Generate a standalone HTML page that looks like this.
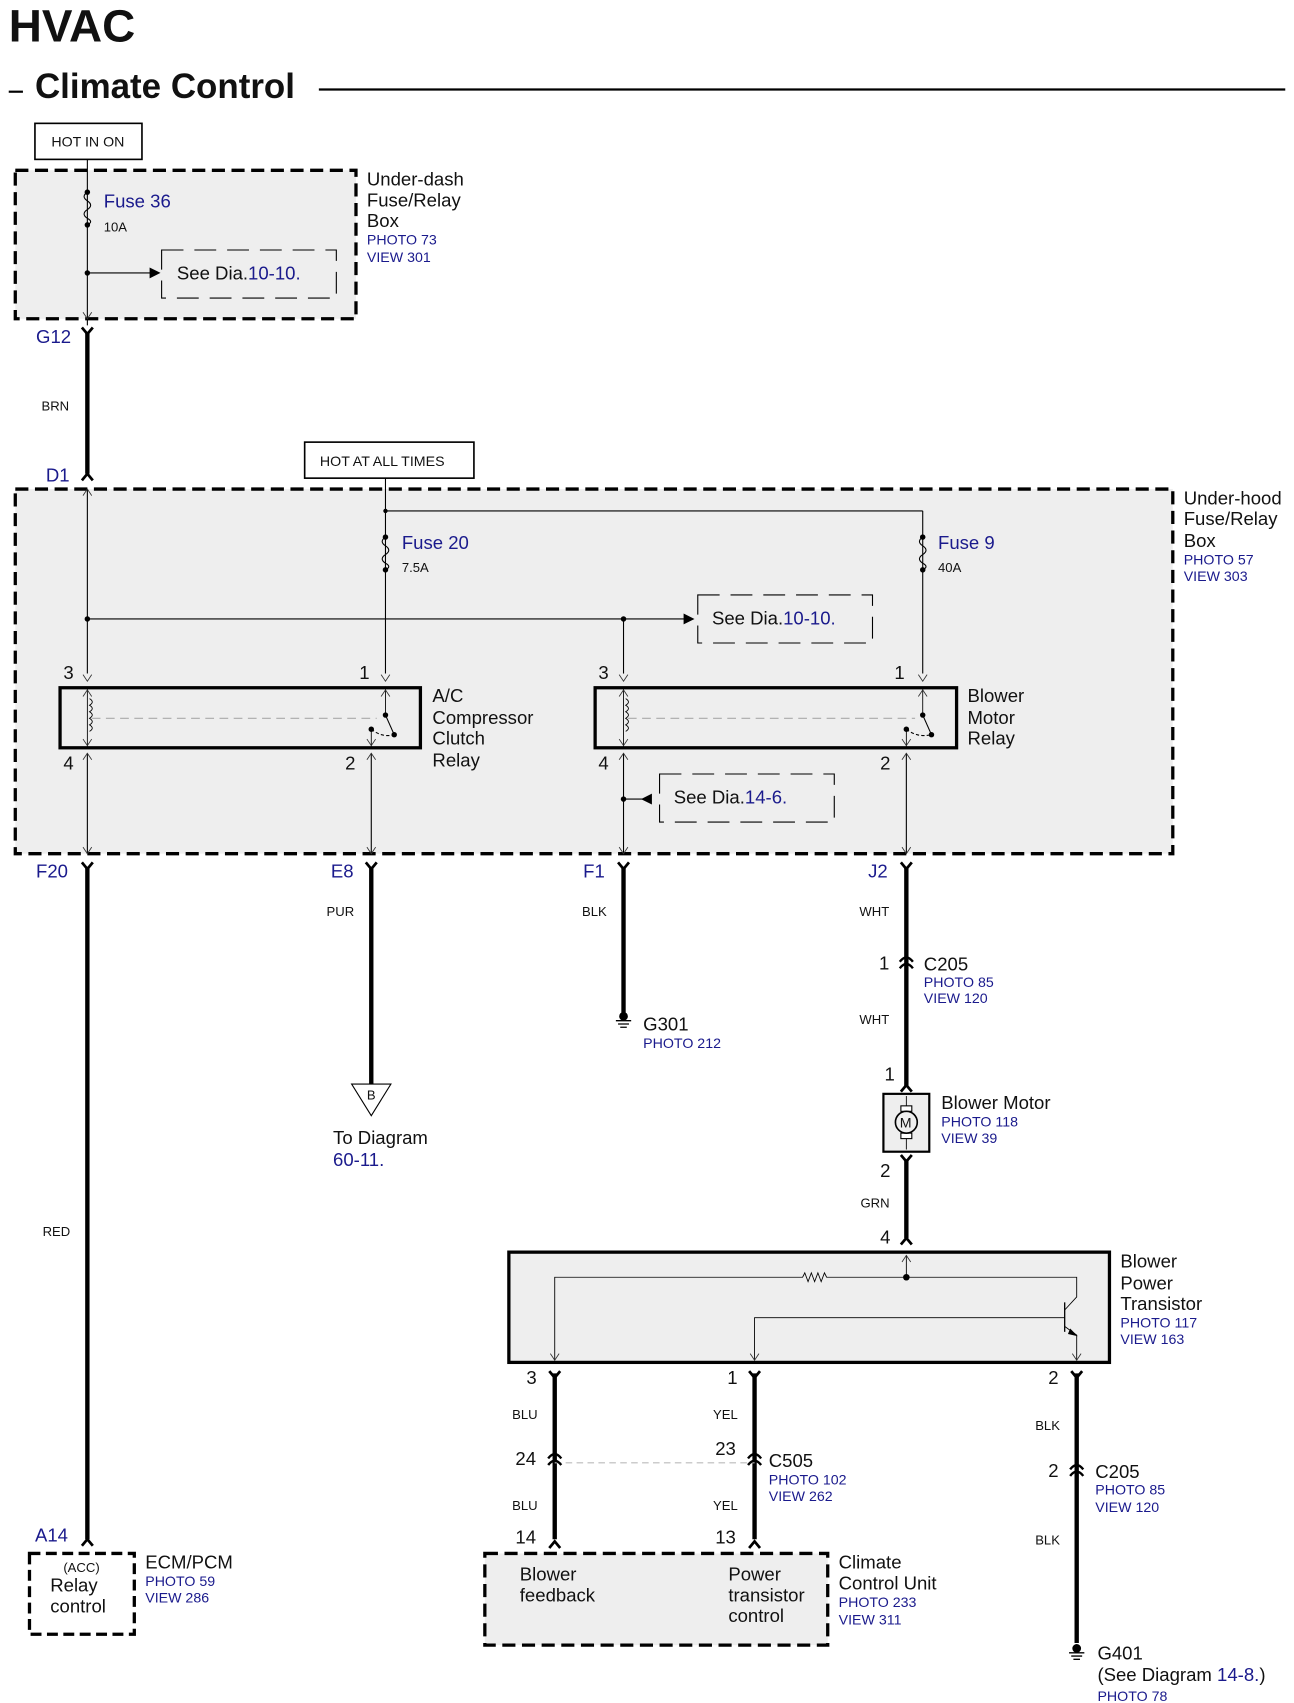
<!DOCTYPE html>
<html><head><meta charset="utf-8"><style>
html,body{margin:0;padding:0;background:#fff}
svg{display:block}
text{font-family:"Liberation Sans",Arial,sans-serif;fill:#111}
.b{fill:#1a1a8c}
.s{font-size:12px}
.m{font-size:17px}
.p{font-size:13px;fill:#1a1a8c}
</style></head><body>
<svg width="1294" height="1703" viewBox="0 0 1185 1560" preserveAspectRatio="none" xmlns="http://www.w3.org/2000/svg">
<defs>
<g id="cf"><path d="M-5,-6 L0,0 L5,-6" fill="none" stroke="#000" stroke-width="2.5"/></g>
<g id="cm"><path d="M-5,6 L0,0 L5,6" fill="none" stroke="#000" stroke-width="2.5"/></g>
<g id="cc"><path d="M-6,5 Q0,-3 6,5 M-6,11 Q0,3 6,11" fill="none" stroke="#000" stroke-width="2.2"/></g>
<g id="tf"><path d="M-4,-6 L0,0 L4,-6" fill="none" stroke="#333" stroke-width="0.8"/></g>
<g id="tm"><path d="M-4,6 L0,0 L4,6" fill="none" stroke="#333" stroke-width="0.8"/></g>
<g id="fuse"><circle cx="0" cy="0" r="2.5" fill="#000"/><circle cx="0" cy="30" r="2.5" fill="#000"/><path d="M0,0 q-6,4 0,8 q6,4 0,8 q-6,4 0,8 q6,3 0,6" fill="none" stroke="#000" stroke-width="1"/></g>
<g id="gnd"><circle cx="0" cy="0" r="4" fill="#000"/><path d="M-7,4 h14 M-5,7 h10 M-3,10 h6" stroke="#000" stroke-width="1.2"/></g>
</defs>

<text x="8" y="38" style="font-size:42px;font-weight:bold">HVAC</text>
<line x1="8" y1="84" x2="21" y2="84" stroke="#000" stroke-width="2"/>
<text x="32" y="90" style="font-size:32px;font-weight:bold">Climate Control</text>
<line x1="292" y1="82" x2="1177" y2="82" stroke="#000" stroke-width="2"/>

<!-- Under-dash -->
<rect x="32" y="113" width="98" height="33" fill="#fff" stroke="#000" stroke-width="1.5"/>
<text x="47" y="134" style="font-size:13px">HOT IN ON</text>
<rect x="14" y="156" width="312" height="136" fill="#eee" stroke="#000" stroke-width="3" stroke-dasharray="12,6"/>
<line x1="80" y1="146" x2="80" y2="298" stroke="#000" stroke-width="1"/>
<use href="#fuse" x="80" y="176"/>
<text x="95" y="190" class="m b">Fuse 36</text>
<text x="95" y="212" class="s">10A</text>
<circle cx="80" cy="250" r="2.5"/>
<line x1="80" y1="250" x2="140" y2="250" stroke="#000"/>
<path d="M137,245 L147,250 L137,255z"/>
<rect x="148" y="229" width="160" height="44" fill="none" stroke="#000" stroke-dasharray="20,10"/>
<text x="162" y="256" style="font-size:17px">See Dia.<tspan class="b">10-10.</tspan></text>
<use href="#tf" x="80" y="292"/>
<text x="336" y="170" class="m">Under-dash</text>
<text x="336" y="189" class="m">Fuse/Relay</text>
<text x="336" y="208" class="m">Box</text>
<text x="336" y="224" class="p">PHOTO 73</text>
<text x="336" y="240" class="p">VIEW 301</text>

<text x="33" y="314" class="m b">G12</text>
<use href="#cf" x="80" y="306"/>
<line x1="80" y1="304" x2="80" y2="434" stroke="#000" stroke-width="4"/>
<text x="38" y="376" class="s">BRN</text>
<use href="#cm" x="80" y="434"/>
<text x="42" y="441" class="m b">D1</text>

<!-- Under-hood -->
<rect x="279" y="405" width="155" height="33" fill="#fff" stroke="#000" stroke-width="1.5"/>
<text x="293" y="427" style="font-size:13px">HOT AT ALL TIMES</text>
<rect x="14" y="448" width="1060" height="334" fill="#eee" stroke="#000" stroke-width="3" stroke-dasharray="12,6"/>
<line x1="353" y1="438" x2="353" y2="617" stroke="#000"/>
<line x1="353" y1="468" x2="845" y2="468" stroke="#000"/>
<line x1="845" y1="468" x2="845" y2="617" stroke="#000"/>
<circle cx="353" cy="468" r="2"/>
<use href="#fuse" x="353" y="492"/>
<use href="#fuse" x="845" y="492"/>
<text x="368" y="503" class="m b">Fuse 20</text>
<text x="368" y="524" class="s">7.5A</text>
<text x="859" y="503" class="m b">Fuse 9</text>
<text x="859" y="524" class="s">40A</text>
<line x1="80" y1="448" x2="80" y2="617" stroke="#000"/>
<use href="#tm" x="80" y="448"/>
<circle cx="80" cy="567" r="2.5"/><circle cx="571" cy="567" r="2.5"/>
<line x1="80" y1="567" x2="628" y2="567" stroke="#000"/>
<path d="M626,562 L636,567 L626,572z"/>
<line x1="571" y1="567" x2="571" y2="617" stroke="#000"/>
<rect x="639" y="545" width="160" height="44" fill="none" stroke="#000" stroke-dasharray="20,10"/>
<text x="652" y="572" style="font-size:17px">See Dia.<tspan class="b">10-10.</tspan></text>

<!-- relays -->
<g stroke="#000" fill="none">
<rect x="55" y="630" width="330" height="55" stroke-width="3"/>
<rect x="545" y="630" width="331" height="55" stroke-width="3"/>
<line x1="80" y1="630" x2="80" y2="685" stroke-width="0.8"/>
<line x1="571" y1="630" x2="571" y2="685" stroke-width="0.8"/>
<line x1="353" y1="630" x2="353" y2="655" stroke-width="0.8"/>
<line x1="845" y1="630" x2="845" y2="655" stroke-width="0.8"/>
<line x1="340" y1="668" x2="340" y2="685" stroke-width="0.8"/>
<line x1="830" y1="668" x2="830" y2="685" stroke-width="0.8"/>
<line x1="353" y1="655" x2="361" y2="673"/>
<line x1="845" y1="655" x2="853" y2="673"/>
<path d="M340,668 q10,8 21,5" stroke-dasharray="3,2"/>
<path d="M830,668 q10,8 23,5" stroke-dasharray="3,2"/>
<line x1="84" y1="658" x2="345" y2="658" stroke="#aaa" stroke-dasharray="8,5"/>
<line x1="575" y1="658" x2="838" y2="658" stroke="#aaa" stroke-dasharray="8,5"/>
<path d="M82,640 q5,3 0,6 q5,3 0,6 q5,3 0,6 q5,3 0,6 q5,3 0,6" stroke-width="0.8"/>
<path d="M573,640 q5,3 0,6 q5,3 0,6 q5,3 0,6 q5,3 0,6 q5,3 0,6" stroke-width="0.8"/>
<line x1="80" y1="690" x2="80" y2="782" stroke-width="1"/>
<line x1="340" y1="690" x2="340" y2="782" stroke-width="1"/>
<line x1="571" y1="690" x2="571" y2="782" stroke-width="1"/>
<line x1="830" y1="690" x2="830" y2="782" stroke-width="1"/>
</g>
<circle cx="353" cy="655" r="2.5"/><circle cx="361" cy="673" r="2.5"/><circle cx="340" cy="668" r="2.5"/>
<circle cx="845" cy="655" r="2.5"/><circle cx="853" cy="673" r="2.5"/><circle cx="830" cy="668" r="2.5"/>
<use href="#tf" x="80" y="624"/><use href="#tf" x="353" y="624"/><use href="#tf" x="571" y="624"/><use href="#tf" x="845" y="624"/>
<use href="#tm" x="80" y="690"/><use href="#tm" x="340" y="690"/><use href="#tm" x="571" y="690"/><use href="#tm" x="830" y="690"/>
<use href="#tm" x="80" y="632"/><use href="#tm" x="353" y="632"/><use href="#tm" x="571" y="632"/><use href="#tm" x="845" y="632"/>
<use href="#tf" x="80" y="683"/><use href="#tf" x="340" y="683"/><use href="#tf" x="571" y="683"/><use href="#tf" x="830" y="683"/>
<use href="#tf" x="80" y="782"/><use href="#tf" x="340" y="782"/><use href="#tf" x="571" y="782"/><use href="#tf" x="830" y="782"/>
<text x="58" y="622" class="m">3</text><text x="329" y="622" class="m">1</text>
<text x="548" y="622" class="m">3</text><text x="819" y="622" class="m">1</text>
<text x="58" y="705" class="m">4</text><text x="316" y="705" class="m">2</text>
<text x="548" y="705" class="m">4</text><text x="806" y="705" class="m">2</text>
<text x="396" y="643" class="m">A/C</text><text x="396" y="663" class="m">Compressor</text><text x="396" y="682" class="m">Clutch</text><text x="396" y="702" class="m">Relay</text>
<text x="886" y="643" class="m">Blower</text><text x="886" y="663" class="m">Motor</text><text x="886" y="682" class="m">Relay</text>
<circle cx="571" cy="732" r="2.5"/>
<line x1="571" y1="732" x2="595" y2="732" stroke="#000"/>
<path d="M597,727 L587,732 L597,737z"/>
<rect x="604" y="709" width="160" height="44" fill="none" stroke="#000" stroke-dasharray="20,10"/>
<text x="617" y="736" style="font-size:17px">See Dia.<tspan class="b">14-6.</tspan></text>
<text x="1084" y="462" class="m">Under-hood</text>
<text x="1084" y="481" class="m">Fuse/Relay</text>
<text x="1084" y="501" class="m">Box</text>
<text x="1084" y="517" class="p">PHOTO 57</text>
<text x="1084" y="532" class="p">VIEW 303</text>

<!-- lower wires -->
<text x="33" y="804" class="m b">F20</text><text x="303" y="804" class="m b">E8</text>
<text x="534" y="804" class="m b">F1</text><text x="795" y="804" class="m b">J2</text>
<use href="#cf" x="80" y="796"/><use href="#cf" x="340" y="796"/><use href="#cf" x="571" y="796"/><use href="#cf" x="830" y="796"/>
<g stroke="#000" stroke-width="4">
<line x1="80" y1="794" x2="80" y2="1410"/>
<line x1="340" y1="794" x2="340" y2="993"/>
<line x1="571" y1="794" x2="571" y2="928"/>
<line x1="830" y1="794" x2="830" y2="995"/>
<line x1="830" y1="1062" x2="830" y2="1134"/>
<line x1="508" y1="1258" x2="508" y2="1410"/>
<line x1="691" y1="1258" x2="691" y2="1410"/>
<line x1="986" y1="1258" x2="986" y2="1505"/>
</g>
<text x="299" y="839" class="s">PUR</text><text x="533" y="839" class="s">BLK</text><text x="787" y="839" class="s">WHT</text>
<use href="#gnd" x="571" y="931"/>
<text x="589" y="944" class="m">G301</text><text x="589" y="960" class="p">PHOTO 212</text>
<path d="M322,993 L358,993 L340,1022z" fill="#fff" stroke="#000"/>
<text x="336" y="1007" class="s">B</text>
<text x="305" y="1048" class="m">To Diagram</text><text x="305" y="1068" class="m b">60-11.</text>
<use href="#cc" x="830" y="876"/>
<text x="805" y="888" class="m">1</text>
<text x="846" y="889" class="m">C205</text><text x="846" y="904" class="p">PHOTO 85</text><text x="846" y="919" class="p">VIEW 120</text>
<text x="787" y="938" class="s">WHT</text>
<text x="810" y="990" class="m">1</text>
<use href="#cm" x="830" y="994"/>
<rect x="809" y="1002" width="42" height="53" fill="#eee" stroke="#000" stroke-width="2"/>
<line x1="830" y1="1004" x2="830" y2="1053" stroke="#000" stroke-width="0.8"/>
<rect x="825" y="1013" width="10" height="5" fill="#fff" stroke="#000"/>
<rect x="825" y="1038" width="10" height="5" fill="#fff" stroke="#000"/>
<circle cx="830" cy="1028" r="10" fill="#eee" stroke="#000" stroke-width="1.5"/>
<text x="824" y="1033" style="font-size:13px">M</text>
<text x="862" y="1016" class="m">Blower Motor</text><text x="862" y="1032" class="p">PHOTO 118</text><text x="862" y="1047" class="p">VIEW 39</text>
<use href="#cf" x="830" y="1064"/>
<text x="806" y="1078" class="m">2</text><text x="788" y="1106" class="s">GRN</text><text x="806" y="1139" class="m">4</text>
<use href="#cm" x="830" y="1134"/>

<!-- transistor -->
<rect x="466" y="1147" width="550" height="101" fill="#eee" stroke="#000" stroke-width="3"/>
<g stroke="#000" fill="none" stroke-width="0.8">
<line x1="830" y1="1150" x2="830" y2="1170"/>
<path d="M508,1246 V1170 H735 l2,-4 l3,8 l3,-8 l3,8 l3,-8 l3,8 l3,-8 l2,4 H986 V1188 L975,1200"/>
<line x1="975" y1="1193" x2="975" y2="1220" stroke-width="1.2"/>
<path d="M691,1246 V1207 H975"/>
<path d="M975,1215 L986,1223 V1246"/>
</g>
<path d="M980,1217 L987,1224 L978,1222z"/>
<circle cx="830" cy="1170" r="3"/>
<use href="#tm" x="830" y="1150"/>
<use href="#tf" x="508" y="1246"/><use href="#tf" x="691" y="1246"/><use href="#tf" x="986" y="1246"/>
<use href="#cf" x="508" y="1262"/><use href="#cf" x="691" y="1262"/><use href="#cf" x="986" y="1262"/>
<text x="482" y="1268" class="m">3</text><text x="666" y="1268" class="m">1</text><text x="960" y="1268" class="m">2</text>
<text x="1026" y="1161" class="m">Blower</text><text x="1026" y="1181" class="m">Power</text><text x="1026" y="1200" class="m">Transistor</text>
<text x="1026" y="1216" class="p">PHOTO 117</text><text x="1026" y="1231" class="p">VIEW 163</text>
<text x="469" y="1300" class="s">BLU</text><text x="653" y="1300" class="s">YEL</text><text x="948" y="1310" class="s">BLK</text>
<line x1="508" y1="1340" x2="691" y2="1340" stroke="#bbb" stroke-dasharray="6,4"/>
<use href="#cc" x="508" y="1331"/>
<use href="#cc" x="691" y="1331"/>
<text x="472" y="1342" class="m">24</text><text x="655" y="1333" class="m">23</text>
<text x="704" y="1344" class="m">C505</text><text x="704" y="1360" class="p">PHOTO 102</text><text x="704" y="1375" class="p">VIEW 262</text>
<use href="#cc" x="986" y="1341"/>
<text x="960" y="1353" class="m">2</text>
<text x="1003" y="1354" class="m">C205</text><text x="1003" y="1369" class="p">PHOTO 85</text><text x="1003" y="1385" class="p">VIEW 120</text>
<text x="469" y="1383" class="s">BLU</text><text x="653" y="1383" class="s">YEL</text><text x="948" y="1415" class="s">BLK</text>
<text x="472" y="1414" class="m">14</text><text x="655" y="1414" class="m">13</text>
<use href="#cm" x="508" y="1412"/><use href="#cm" x="691" y="1412"/>
<use href="#gnd" x="986" y="1510"/>
<text x="1005" y="1520" class="m">G401</text>
<text x="1005" y="1540" class="m">(See Diagram <tspan class="b">14-8.</tspan>)</text>
<text x="1005" y="1558" class="p">PHOTO 78</text>

<!-- ECM -->
<text x="32" y="1412" class="m b">A14</text>
<use href="#cm" x="80" y="1410"/>
<rect x="27" y="1423" width="96" height="74" fill="#fff" stroke="#000" stroke-width="3" stroke-dasharray="10,5"/>
<text x="58" y="1440" class="s">(ACC)</text><text x="46" y="1458" class="m">Relay</text><text x="46" y="1477" class="m">control</text>
<text x="133" y="1437" class="m">ECM/PCM</text><text x="133" y="1453" class="p">PHOTO 59</text><text x="133" y="1468" class="p">VIEW 286</text>
<text x="39" y="1132" class="s">RED</text>

<!-- Climate control unit -->
<rect x="444" y="1423" width="314" height="84" fill="#eee" stroke="#000" stroke-width="3" stroke-dasharray="12,6"/>
<text x="476" y="1448" class="m">Blower</text><text x="476" y="1467" class="m">feedback</text>
<text x="667" y="1448" class="m">Power</text><text x="667" y="1467" class="m">transistor</text><text x="667" y="1486" class="m">control</text>
<text x="768" y="1437" class="m">Climate</text><text x="768" y="1456" class="m">Control Unit</text>
<text x="768" y="1472" class="p">PHOTO 233</text><text x="768" y="1488" class="p">VIEW 311</text>
</svg>
</body></html>
